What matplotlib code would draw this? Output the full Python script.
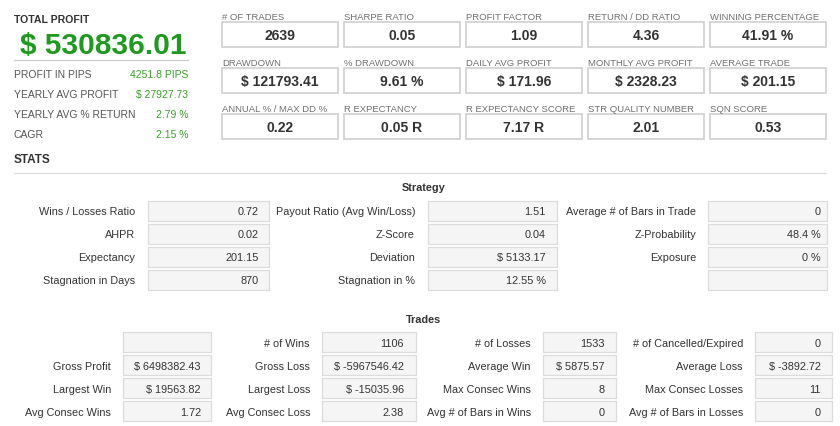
import matplotlib
matplotlib.use("Agg")
import matplotlib.pyplot as plt
from matplotlib.patches import Rectangle

plt.rcParams['font.family'] = ['Liberation Sans', 'DejaVu Sans']

# ---------------- data ----------------
total_profit_label = "TOTAL PROFIT"
total_profit_value = "$ 530836.01"

left_labels = ["PROFIT IN PIPS", "YEARLY AVG PROFIT", "YEARLY AVG % RETURN", "CAGR"]
left_values = ["4251.8 PIPS", "$ 27927.73", "2.79 %", "2.15 %"]

top_labels = [
    ["# OF TRADES", "SHARPE RATIO", "PROFIT FACTOR", "RETURN / DD RATIO", "WINNING PERCENTAGE"],
    ["DRAWDOWN", "% DRAWDOWN", "DAILY AVG PROFIT", "MONTHLY AVG PROFIT", "AVERAGE TRADE"],
    ["ANNUAL % / MAX DD %", "R EXPECTANCY", "R EXPECTANCY SCORE", "STR QUALITY NUMBER", "SQN SCORE"],
]
top_values = [
    ["2639", "0.05", "1.09", "4.36", "41.91 %"],
    ["$ 121793.41", "9.61 %", "$ 171.96", "$ 2328.23", "$ 201.15"],
    ["0.22", "0.05 R", "7.17 R", "2.01", "0.53"],
]

strategy_labels = [
    ["Wins / Losses Ratio", "AHPR", "Expectancy", "Stagnation in Days"],
    ["Payout Ratio (Avg Win/Loss)", "Z-Score", "Deviation", "Stagnation in %"],
    ["Average # of Bars in Trade", "Z-Probability", "Exposure", ""],
]
strategy_values = [
    ["0.72", "0.02", "201.15", "870"],
    ["1.51", "0.04", "$ 5133.17", "12.55 %"],
    ["0", "48.4 %", "0 %", ""],
]

trade_labels = [
    ["", "Gross Profit", "Largest Win", "Avg Consec Wins"],
    ["# of Wins", "Gross Loss", "Largest Loss", "Avg Consec Loss"],
    ["# of Losses", "Average Win", "Max Consec Wins", "Avg # of Bars in Wins"],
    ["# of Cancelled/Expired", "Average Loss", "Max Consec Losses", "Avg # of Bars in Losses"],
]
trade_values = [
    ["", "$ 6498382.43", "$ 19563.82", "1.72"],
    ["1106", "$ -5967546.42", "$ -15035.96", "2.38"],
    ["1533", "$ 5875.57", "8", "0"],
    ["0", "$ -3892.72", "11", "0"],
]

# ---------------- layout ----------------
fig = plt.figure(figsize=(8.4, 4.27), dpi=100)
ax = fig.add_axes([0, 0, 1, 1])
ax.set_xlim(0, 840)
ax.set_ylim(427, 0)
ax.axis('off')

GREEN = '#1e9a1e'
GREEN2 = '#3a9e2a'
DARK = '#333333'


def txt(x, yc, s, size, **kw):
    """Place text so that its capital letters are centred on yc (pixel units)."""
    cap = 0.716 * size * 100 / 72
    ax.text(x, yc + cap / 2, s, fontsize=size, va='baseline', **kw)


# header left
txt(14, 19, total_profit_label, 7.6, fontweight='bold', color=DARK, ha='left')
txt(20, 43, total_profit_value, 21.5, fontweight='bold', color=GREEN, ha='left')
ax.plot([14, 188], [60.5, 60.5], color='#cccccc', lw=0.9)
for i, (lab, val) in enumerate(zip(left_labels, left_values)):
    y = 74 + 20 * i
    txt(14, y, lab, 7.5, color='#555555', ha='left')
    txt(188, y, val, 7.5, color=GREEN2, ha='right')

# header boxes
col_x = [222 + 122 * j for j in range(5)]
for r in range(3):
    ly = 17 + 46 * r
    by = 23 + 46 * r
    for c in range(5):
        x = col_x[c]
        txt(x, ly, top_labels[r][c], 6.8, color='#707070', ha='left')
        ax.add_patch(Rectangle((x, by), 116, 25, facecolor='white', edgecolor='#cfcfcf', lw=1.2))
        txt(x + 58, by + 12.5, top_values[r][c], 10, fontweight='bold', color=DARK, ha='center')

txt(14, 159, "STATS", 8.5, fontweight='bold', color=DARK, ha='left')
ax.plot([14, 826], [173.5, 173.5], color='#dddddd', lw=0.9)

# Strategy section
txt(424, 187, "Strategy", 7.8, fontweight='bold', color=DARK, ha='center')
s_label_right = [135, 415, 696]
s_box = [(148, 121), (428, 129), (708, 119)]
s_val_pad = [10, 11, 6]
for c in range(3):
    for r in range(4):
        yc = 211.5 + 23 * r
        bx, bw = s_box[c]
        if strategy_labels[c][r]:
            txt(s_label_right[c], yc, strategy_labels[c][r], 7.8, color=DARK, ha='right')
        ax.add_patch(Rectangle((bx, yc - 10), bw, 20, facecolor='#f5f5f5', edgecolor='#dcdcdc', lw=0.9))
        if strategy_values[c][r]:
            txt(bx + bw - s_val_pad[c], yc, strategy_values[c][r], 7.8, color=DARK, ha='right')

# Trades section
txt(424, 319, "Trades", 7.8, fontweight='bold', color=DARK, ha='center')
t_label_right = [111, 310, 531, 743]
t_box = [(123, 88), (322, 94), (543, 73), (755, 77)]
t_val_pad = [10, 12, 11, 11]
for c in range(4):
    for r in range(4):
        yc = 343 + 23 * r
        bx, bw = t_box[c]
        if trade_labels[c][r]:
            txt(t_label_right[c], yc, trade_labels[c][r], 7.8, color=DARK, ha='right')
        ax.add_patch(Rectangle((bx, yc - 10), bw, 20, facecolor='#f5f5f5', edgecolor='#dcdcdc', lw=0.9))
        if trade_values[c][r]:
            txt(bx + bw - t_val_pad[c], yc, trade_values[c][r], 7.8, color=DARK, ha='right')

fig.savefig("out.png", dpi=100, facecolor='white')
